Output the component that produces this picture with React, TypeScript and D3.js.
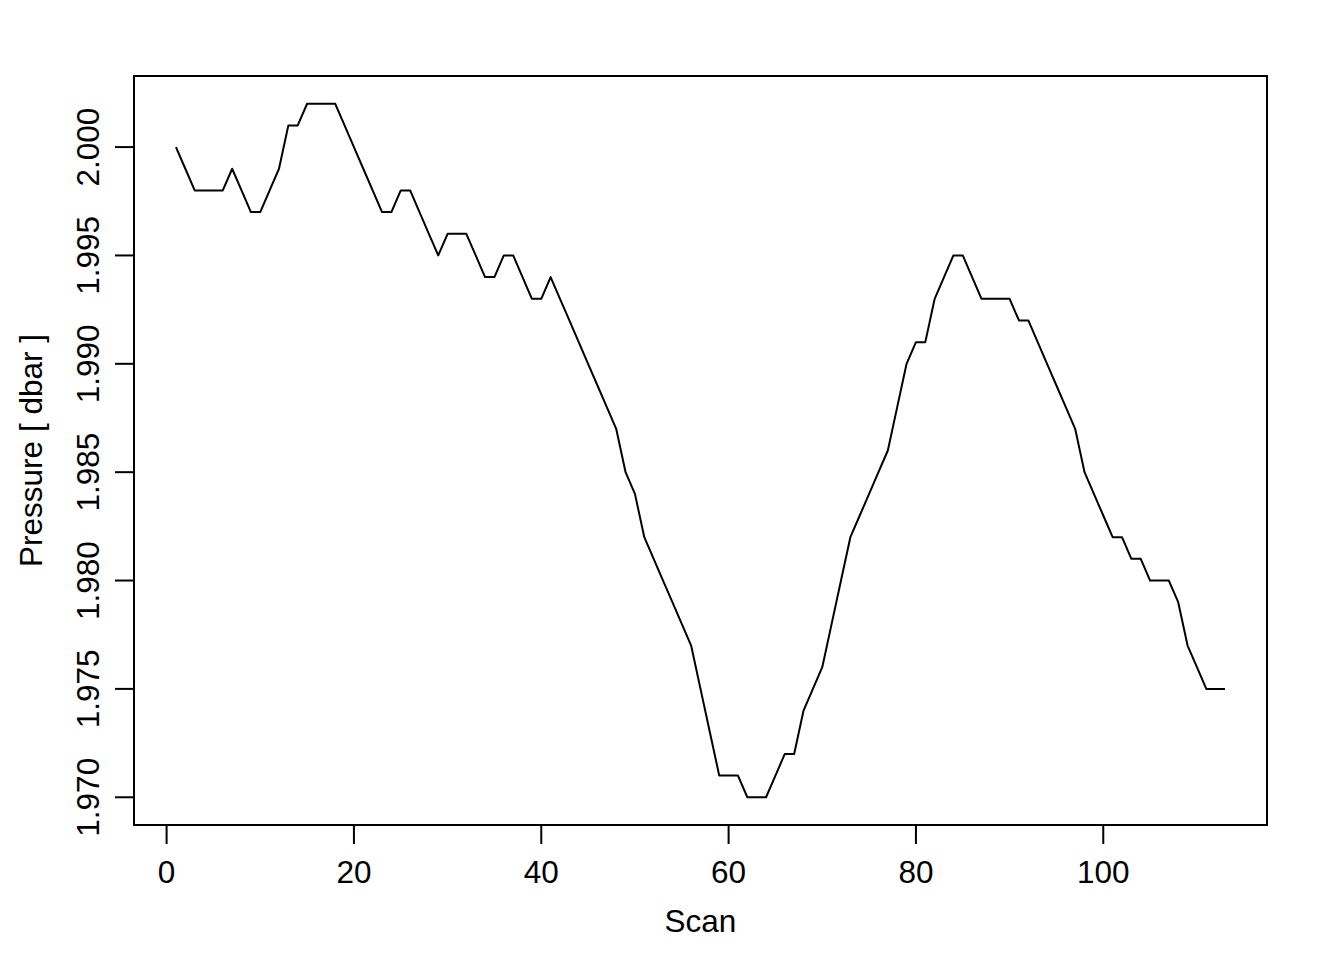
import React from "react";
import * as d3 from "d3";

const pressure: number[] = [
  2.000, 1.999, 1.998, 1.998, 1.998, 1.998, 1.999, 1.998, 1.997, 1.997,
  1.998, 1.999, 2.001, 2.001, 2.002, 2.002, 2.002, 2.002, 2.001, 2.000,
  1.999, 1.998, 1.997, 1.997, 1.998, 1.998, 1.997, 1.996, 1.995, 1.996,
  1.996, 1.996, 1.995, 1.994, 1.994, 1.995, 1.995, 1.994, 1.993, 1.993,
  1.994, 1.993, 1.992, 1.991, 1.990, 1.989, 1.988, 1.987, 1.985, 1.984,
  1.982, 1.981, 1.980, 1.979, 1.978, 1.977, 1.975, 1.973, 1.971, 1.971,
  1.971, 1.970, 1.970, 1.970, 1.971, 1.972, 1.972, 1.974, 1.975, 1.976,
  1.978, 1.980, 1.982, 1.983, 1.984, 1.985, 1.986, 1.988, 1.990, 1.991,
  1.991, 1.993, 1.994, 1.995, 1.995, 1.994, 1.993, 1.993, 1.993, 1.993,
  1.992, 1.992, 1.991, 1.990, 1.989, 1.988, 1.987, 1.985, 1.984, 1.983,
  1.982, 1.982, 1.981, 1.981, 1.980, 1.980, 1.980, 1.979, 1.977, 1.976,
  1.975, 1.975, 1.975,
];
const scans: number[] = pressure.map((_, i) => i + 1);

const xTicks: number[] = [0, 20, 40, 60, 80, 100];
const yTicks: number[] = [1.970, 1.975, 1.980, 1.985, 1.990, 1.995, 2.000];
const xTitle = "Scan";
const yTitle = "Pressure [ dbar ]";

const W = 1344;
const H = 960;
const box = { left: 134, right: 1267, top: 76, bottom: 825 };
const FONT = "'Liberation Sans', Arial, Helvetica, sans-serif";
const FS = 31.5;

function padDomain(lo: number, hi: number): [number, number] {
  const d = (hi - lo) * 0.04;
  return [lo - d, hi + d];
}

export default function App() {
  const xDom = padDomain(d3.min(scans)!, d3.max(scans)!);
  const yDom = padDomain(d3.min(pressure)!, d3.max(pressure)!);
  const x = d3.scaleLinear().domain(xDom).range([box.left, box.right]);
  const y = d3.scaleLinear().domain(yDom).range([box.bottom, box.top]);

  const line = d3
    .line<number>()
    .x((_, i) => x(scans[i]))
    .y((d) => y(d));

  const tickLen = 19;
  const fmtY = d3.format(".3f");

  return (
    <svg
      width={W}
      height={H}
      style={{ position: "absolute", left: 0, top: 0, background: "#fff" }}
      fontFamily={FONT}
    >
      <rect x={0} y={0} width={W} height={H} fill="#fff" />
      <path
        d={line(pressure) || ""}
        fill="none"
        stroke="#000"
        strokeWidth={2}
        strokeLinejoin="round"
      />
      <rect
        x={box.left}
        y={box.top}
        width={box.right - box.left}
        height={box.bottom - box.top}
        fill="none"
        stroke="#000"
        strokeWidth={2}
      />
      {/* x axis */}
      <line
        x1={x(xTicks[0])}
        x2={x(xTicks[xTicks.length - 1])}
        y1={box.bottom}
        y2={box.bottom}
        stroke="#000"
        strokeWidth={2}
      />
      {xTicks.map((t) => (
        <g key={"x" + t}>
          <line
            x1={x(t)}
            x2={x(t)}
            y1={box.bottom}
            y2={box.bottom + tickLen}
            stroke="#000"
            strokeWidth={2}
          />
          <text x={x(t)} y={883} textAnchor="middle" fontSize={FS} fill="#000">
            {t}
          </text>
        </g>
      ))}
      <text x={(box.left + box.right) / 2} y={932} textAnchor="middle" fontSize={FS} fill="#000">
        {xTitle}
      </text>
      {/* y axis */}
      <line
        x1={box.left}
        x2={box.left}
        y1={y(yTicks[0])}
        y2={y(yTicks[yTicks.length - 1])}
        stroke="#000"
        strokeWidth={2}
      />
      {yTicks.map((t) => (
        <g key={"y" + t}>
          <line
            x1={box.left - tickLen}
            x2={box.left}
            y1={y(t)}
            y2={y(t)}
            stroke="#000"
            strokeWidth={2}
          />
          <text
            transform={`translate(${99},${y(t)}) rotate(-90)`}
            textAnchor="middle"
            fontSize={FS}
            fill="#000"
          >
            {fmtY(t)}
          </text>
        </g>
      ))}
      <text
        transform={`translate(${42},${(box.top + box.bottom) / 2}) rotate(-90)`}
        textAnchor="middle"
        fontSize={FS}
        fill="#000"
      >
        {yTitle}
      </text>
    </svg>
  );
}
